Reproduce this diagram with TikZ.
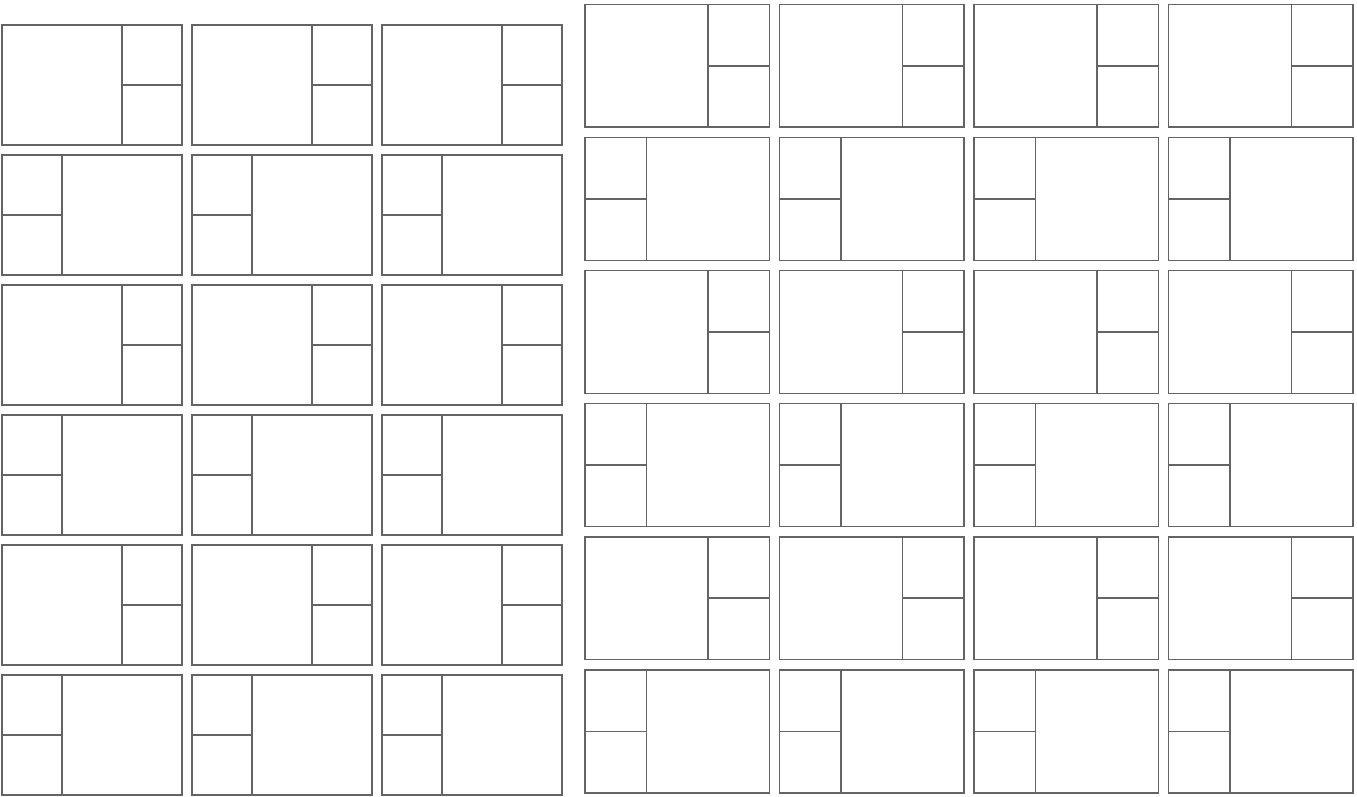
\documentclass[tikz,border=0pt]{standalone}
\usepackage{xcolor}
\usepackage{tikz}
\definecolor{framegray}{RGB}{100,100,100}
% grid of split panels, #1 = last column index
\newcommand{\drawpanels}[1]{%
\foreach \r in {0,...,5}{
\foreach \c in {0,...,#1}{
\draw[frame](190*\c,130*\r)rectangle++(180,120);
\ifodd\r
\draw[frame](190*\c+60,130*\r)--++(0,120)
(190*\c,130*\r+60)--++(60,0);
\else
\draw[frame](190*\c+120,130*\r)--++(0,120)
(190*\c+120,130*\r+60)--++(60,0);
\fi
}}}
\begin{document}
\begin{tikzpicture}[x=0.01cm,y=-0.01cm,frame/.style={draw=framegray,line width=0.45pt}]
\useasboundingbox(0,0)rectangle(1357,796);
% left block
\begin{scope}[shift={(2,25)}]
\drawpanels{2}
\end{scope}
% right block
\begin{scope}[shift={(585,4.3)},scale=1.024]
\drawpanels{3}
\end{scope}
\end{tikzpicture}
\end{document}
